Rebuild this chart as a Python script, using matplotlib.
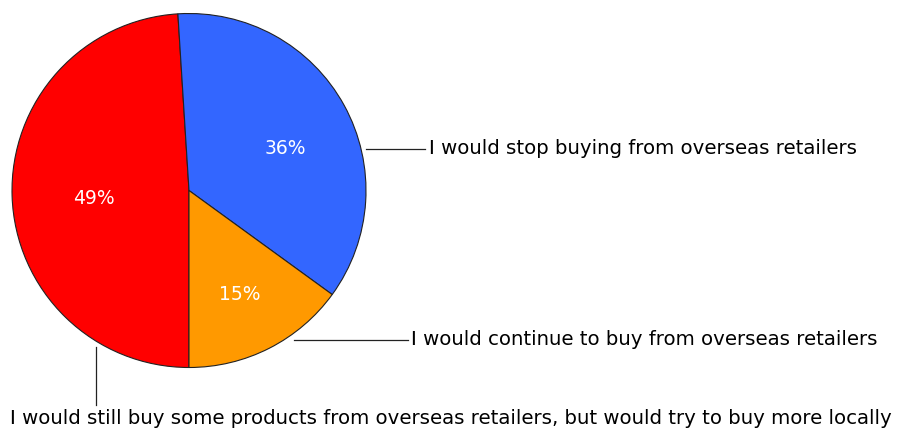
import numpy as np
import matplotlib.pyplot as plt

# slices, going clockwise from the bottom of the pie
labels = ["I would still buy some products from overseas retailers, but would try to buy more locally",
          "I would stop buying from overseas retailers",
          "I would continue to buy from overseas retailers"]
values = [49, 36, 15]
colors = ["#FF0000", "#3366FF", "#FF9900"]

W, H = 898, 430
fig = plt.figure(figsize=(W / 100, H / 100), dpi=100)
ax = fig.add_axes([0, 0, 1, 1])

cx, cy, R = 189, 239.5, 177
wedges, texts, autotexts = ax.pie(
    values, colors=colors, startangle=270, counterclock=False,
    center=(cx, cy), radius=R, autopct="%d%%", pctdistance=0.6,
    wedgeprops=dict(edgecolor="#222222", linewidth=0.8),
    textprops=dict(color="white", fontsize=13.5))
ax.set_xlim(0, W)
ax.set_ylim(0, H)
ax.set_aspect("equal")
ax.axis("off")

# nudge the percentages a little lower, like the original
for t in autotexts:
    x, y = t.get_position()
    t.set_position((x + 3, y - 9))
autotexts[0].set_position((autotexts[0].get_position()[0] + 8, autotexts[0].get_position()[1] + 4))

fs = 14.2
# leader lines (angle in degrees at the rim, then out to the text)
def rim(ang, r=1.03):
    a = np.deg2rad(ang)
    return cx + r * R * np.cos(a), cy + r * R * np.sin(a)

# stop buying
x0, y0 = rim(13.2)
ax.plot([x0, 425], [y0, y0], color="#222222", lw=0.9)
ax.text(429, y0, labels[1], ha="left", va="center", fontsize=fs, color="black")

# continue to buy
x0, y0 = rim(-54.9)
ax.plot([x0, 408], [y0, y0], color="#222222", lw=0.9)
ax.text(411, y0, labels[2], ha="left", va="center", fontsize=fs, color="black")

# still buy some
x0, y0 = rim(-120.8)
ax.plot([x0, x0], [y0, 25], color="#222222", lw=0.9)
ax.text(451, 12, labels[0], ha="center", va="center", fontsize=fs, color="black")

fig.savefig("out.png", dpi=100)
